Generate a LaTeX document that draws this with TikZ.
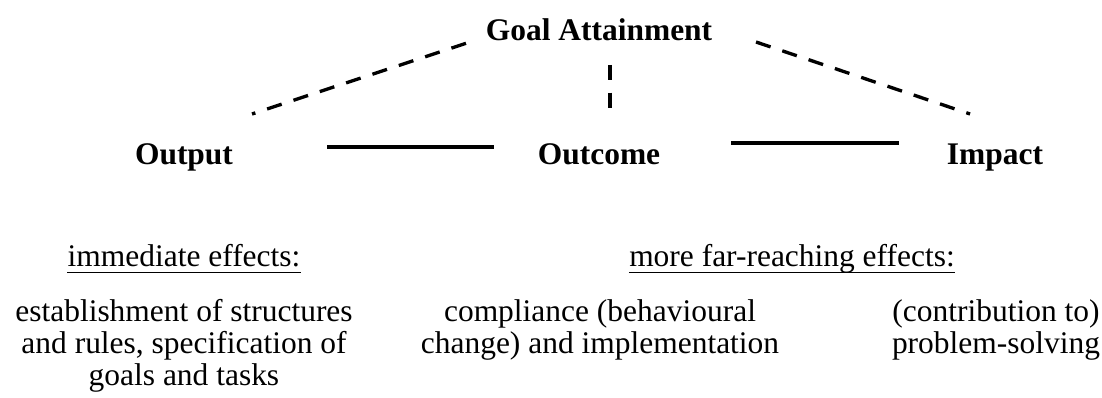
\documentclass[tikz,border=0pt]{standalone}
\usepackage{fontspec}
\setmainfont{Liberation Serif}
\usetikzlibrary{calc}

\begin{document}
\begin{tikzpicture}[x=.75pt, y=-.75pt,
        titre/.style={font=\fontsize{23.6}{28}\selectfont\bfseries, inner sep=0, anchor=base},
        texte/.style={font=\fontsize{23.6}{24.2}\selectfont, inner sep=0, anchor=base, align=center},
        trait/.style={line width=3.2pt},
        pointille/.style={line width=2.5pt, dash pattern=on 11.5pt off 9.3pt},
        souligne/.style={line width=1.3pt}]
    \useasboundingbox (0, 0) rectangle (1102, 398);
    % en haut l'atteinte du but, en dessous les trois niveaux
    \node[titre] (but) at (599, 41) {Goal Attainment};
    \foreach \nom/\x/\texte in {output/184/Output, outcome/599/Outcome, impact/995/Impact} {
        \node[titre] (\nom) at (\x, 165) {\texte};
    }
    % bouts des traits (ils ne touchent pas les textes)
    \coordinate (g1) at (466, 43.3);
    \coordinate (g2) at (252, 114);
    \coordinate (d1) at (756, 42);
    \coordinate (d2) at (970, 114);
    \coordinate (v1) at (610, 65);
    \coordinate (v2) at (610, 108);
    \coordinate (a1) at (327, 147);
    \coordinate (a2) at (494, 147);
    \coordinate (b1) at (731, 143);
    \coordinate (b2) at (899, 143);
    \draw[pointille] (g1) -- (g2);
    \draw[pointille] (d1) -- (d2);
    \draw[pointille] (v1) -- (v2);
    \draw[trait] (a1) -- (a2);
    \draw[trait] (b1) -- (b2);
    % les effets (base = derniere ligne du texte)
    \node[texte] (immediat) at (184, 267) {immediate effects:};
    \node[texte] (lointain) at (792, 267) {more far-reaching effects:};
    \foreach \nom in {immediat, lointain} {
        \draw[souligne] ($(\nom.base west)+(0, 5.5)$) -- ($(\nom.base east)+(0, 5.5)$);
    }
    \node[texte] (structures) at (184, 386) {establishment of structures\\and rules, specification of\\goals and tasks};
    \node[texte] (compliance) at (600, 354) {compliance (behavioural\\change) and implementation};
    \node[texte] (probleme) at (996, 354) {(contribution to)\\problem-solving};
\end{tikzpicture}
\end{document}
